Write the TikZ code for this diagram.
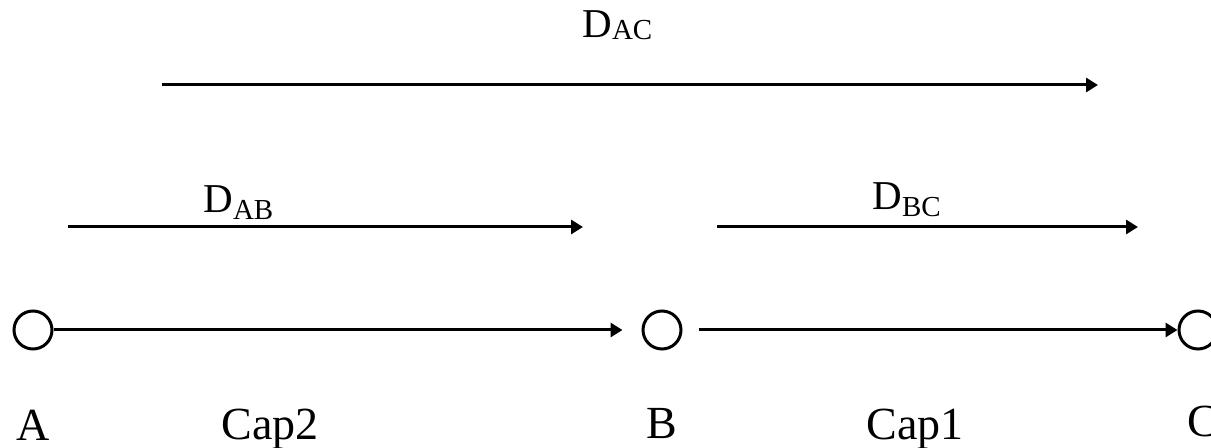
\documentclass[tikz,border=0pt]{standalone}
\usepackage{fontspec}
\setmainfont{Liberation Serif}
\usetikzlibrary{arrows.meta}
\tikzset{
  pt/.style={circle,draw,line width=1.5pt,minimum size=19pt,inner sep=0pt},
  conn/.style={line width=1.5pt,-{Triangle[length=6pt,width=7pt]}},
  lab/.style={inner sep=0pt,anchor=base,font=\fontsize{23}{23}\selectfont},
  dlab/.style={inner sep=0pt,anchor=base west}
}
\newcommand{\Dlab}[2]{{\fontsize{20.5}{20.5}\selectfont D}\raisebox{#2}{\fontsize{14.5}{14.5}\selectfont #1}}
\begin{document}
\begin{tikzpicture}[x=0.5pt,y=-0.5pt]
\useasboundingbox (0,0) rectangle (1211,448);
% points
\node[pt] (A) at (33,330) {};
\node[pt] (B) at (662,330) {};
\node[pt] (C) at (1198,330) {};
% main connectors
\draw[conn] (A) -- ([xshift=-9.5pt]B.west);
\draw[conn] ([xshift=8pt]B.east) -- (C.west);
% distance arrows
\coordinate (ab1) at (68,227);
\coordinate (ab2) at (583,227);
\coordinate (bc1) at (717,227);
\coordinate (bc2) at (1138,227);
\coordinate (ac1) at (162,85);
\coordinate (ac2) at (1098,85);
\draw[conn] (ab1) -- (ab2);
\draw[conn] (bc1) -- (bc2);
\draw[conn] (ac1) -- (ac2);
% distance labels
\node[dlab] (lab) at (203,213) {\Dlab{AB}{-3.5pt}};
\node[dlab] (lbc) at (872,210) {\Dlab{BC}{-3.5pt}};
\node[dlab] (lac) at (582,38) {\Dlab{AC}{-0.7pt}};
% point and capacity labels
\node[lab] (tA) at (33,441) {A};
\node[lab] (tcap2) at (270,440) {Cap2};
\node[lab] (tB) at (662,439) {B};
\node[lab] (tcap1) at (915,440) {Cap1};
\node[lab,anchor=base west] (tC) at (1187,437) {C};
\end{tikzpicture}
\end{document}
